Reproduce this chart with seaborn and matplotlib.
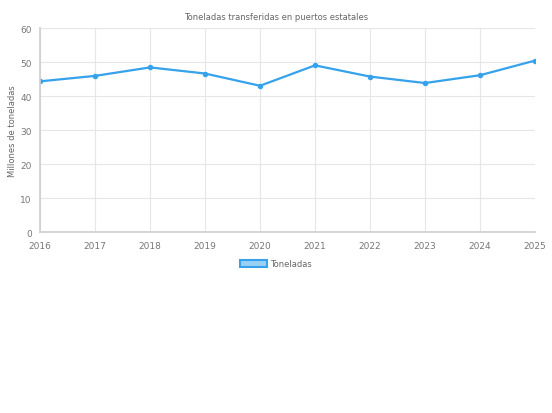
import matplotlib
matplotlib.use("Agg")
import matplotlib.pyplot as plt
import seaborn as sns
import pandas as pd
from matplotlib.patches import Patch

years = [2016, 2017, 2018, 2019, 2020, 2021, 2022, 2023, 2024, 2025]
toneladas = [44.4, 46.0, 48.5, 46.7, 43.1, 49.1, 45.8, 43.9, 46.2, 50.5]
yticks = [0, 10, 20, 30, 40, 50, 60]

df = pd.DataFrame({"year": years, "Toneladas": toneladas})

sns.set_theme(style="white")
plt.rcParams["font.family"] = ["DejaVu Sans"]

fig = plt.figure(figsize=(5.52, 4.14), dpi=100)
ax = fig.add_axes([40/552, 1-233.3/414, 495/552, 204/414])

blue = "#36A2EB"
sns.lineplot(data=df, x="year", y="Toneladas", ax=ax, color=blue, linewidth=1.6,
             marker="o", markersize=3.2, markeredgecolor=blue, markerfacecolor=blue)

ax.set_xlim(years[0], years[-1])
ax.set_ylim(0, 60)
ax.set_xticks(years)
ax.set_xticklabels([str(y) for y in years])
ax.set_yticks(yticks)
ax.grid(True, color="#e6e6e6", linewidth=0.8)
for s in ax.spines.values():
    s.set_visible(False)
ax.spines["left"].set_visible(True)
ax.spines["bottom"].set_visible(True)
ax.spines["left"].set_color("#d0d0d0")
ax.spines["bottom"].set_color("#d0d0d0")
ax.tick_params(axis="both", labelsize=6.5, colors="#777777", length=4, width=0.8, color="#e6e6e6", pad=2)
ax.set_xlabel("")
ax.set_ylabel("Millones de toneladas", fontsize=6, color="#666666", labelpad=2)

fig.text(0.5, 1-17/414, "Toneladas transferidas en puertos estatales", ha="center", va="center",
         fontsize=6, color="#666666")

handle = Patch(facecolor=(54/255, 162/255, 235/255, 0.5), edgecolor=blue, linewidth=1.5, label="Toneladas")
fig.legend(handles=[handle], loc="center", bbox_to_anchor=(0.5, 1-265/414), frameon=False,
           fontsize=6, labelcolor="#666666", handlelength=3.2, handleheight=0.9, handletextpad=0.4)

fig.savefig("out.png", dpi=100)
